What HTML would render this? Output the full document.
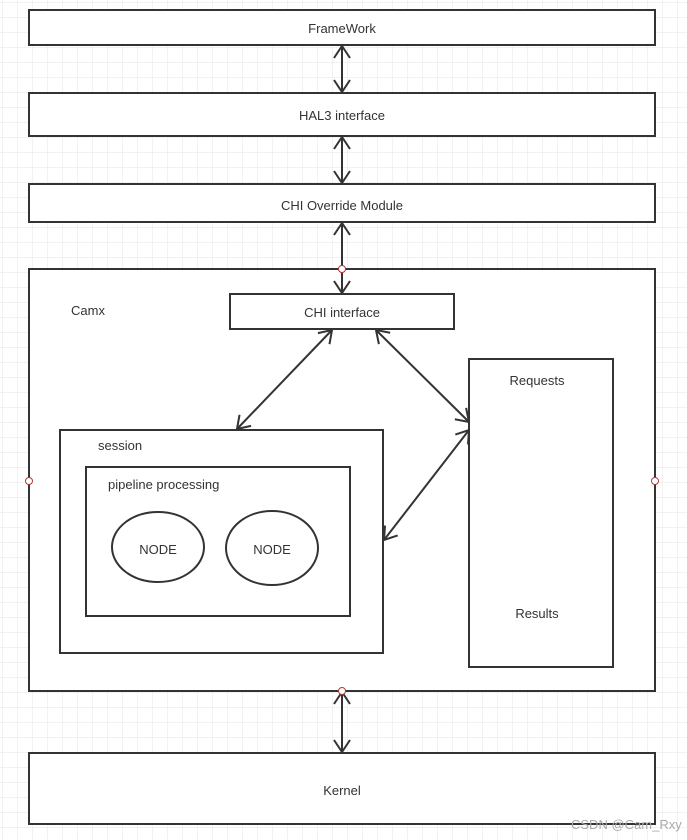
<!DOCTYPE html>
<html><head><meta charset="utf-8"><style>
html,body{margin:0;padding:0;background:#fff}
svg{display:block}
text{font-family:"Liberation Sans","DejaVu Sans",sans-serif;font-size:13px;fill:#333}
</style></head><body>
<svg width="687" height="840" viewBox="0 0 687 840" xmlns="http://www.w3.org/2000/svg">
<defs>
<pattern id="g" x="2" y="2" width="15" height="15" patternUnits="userSpaceOnUse">
<path d="M0 0H15M0 0V15" stroke="#e4e4e4" stroke-width="1" fill="none"/>
</pattern>
<marker id="a" viewBox="0 0 14 18" refX="13" refY="9" markerWidth="14" markerHeight="18" markerUnits="userSpaceOnUse" orient="auto-start-reverse">
<path d="M1 1L13 9L1 17" fill="none" stroke="#333" stroke-width="2"/>
</marker>
</defs>
<rect width="687" height="840" fill="url(#g)"/>
<g fill="#fff" stroke="#333" stroke-width="2">
<rect x="29" y="10" width="626" height="35"/>
<rect x="29" y="93" width="626" height="43"/>
<rect x="29" y="184" width="626" height="38"/>
<rect x="29" y="269" width="626" height="422"/>
<rect x="230" y="294" width="224" height="35"/>
<rect x="469" y="359" width="144" height="308"/>
<rect x="60" y="430" width="323" height="223"/>
<rect x="86" y="467" width="264" height="149"/>
<ellipse cx="158" cy="547" rx="46" ry="35"/>
<ellipse cx="272" cy="548" rx="46" ry="37"/>
<rect x="29" y="753" width="626" height="71"/>
</g>
<g stroke="#333" stroke-width="2" fill="none" marker-start="url(#a)" marker-end="url(#a)">
<line x1="342" y1="46" x2="342" y2="92"/>
<line x1="342" y1="137" x2="342" y2="183"/>
<line x1="342" y1="223" x2="342" y2="293"/>
<line x1="332" y1="330" x2="237" y2="429"/>
<line x1="376" y1="330" x2="469" y2="422"/>
<line x1="469" y1="430" x2="384" y2="540"/>
<line x1="342" y1="692" x2="342" y2="752"/>
</g>
<g fill="#fff" stroke="#b03a3a" stroke-width="1">
<circle cx="342" cy="269" r="3.5"/>
<circle cx="342" cy="691" r="3.5"/>
<circle cx="29" cy="481" r="3.5"/>
<circle cx="655" cy="481" r="3.5"/>
</g>
<g text-anchor="middle">
<text x="342" y="33">FrameWork</text>
<text x="342" y="120">HAL3 interface</text>
<text x="342" y="210">CHI Override Module</text>
<text x="342" y="317">CHI interface</text>
<text x="158" y="554" font-size="12">NODE</text>
<text x="272" y="554" font-size="12">NODE</text>
<text x="342" y="795">Kernel</text>
<text x="537" y="385">Requests</text>
<text x="537" y="618">Results</text>
</g>
<text x="71" y="315">Camx</text>
<text x="98" y="450">session</text>
<text x="108" y="489">pipeline processing</text>
<text x="571" y="829" font-size="12" style="fill:#aaa">CSDN @Cam_Rxy</text>
</svg>
</body></html>
